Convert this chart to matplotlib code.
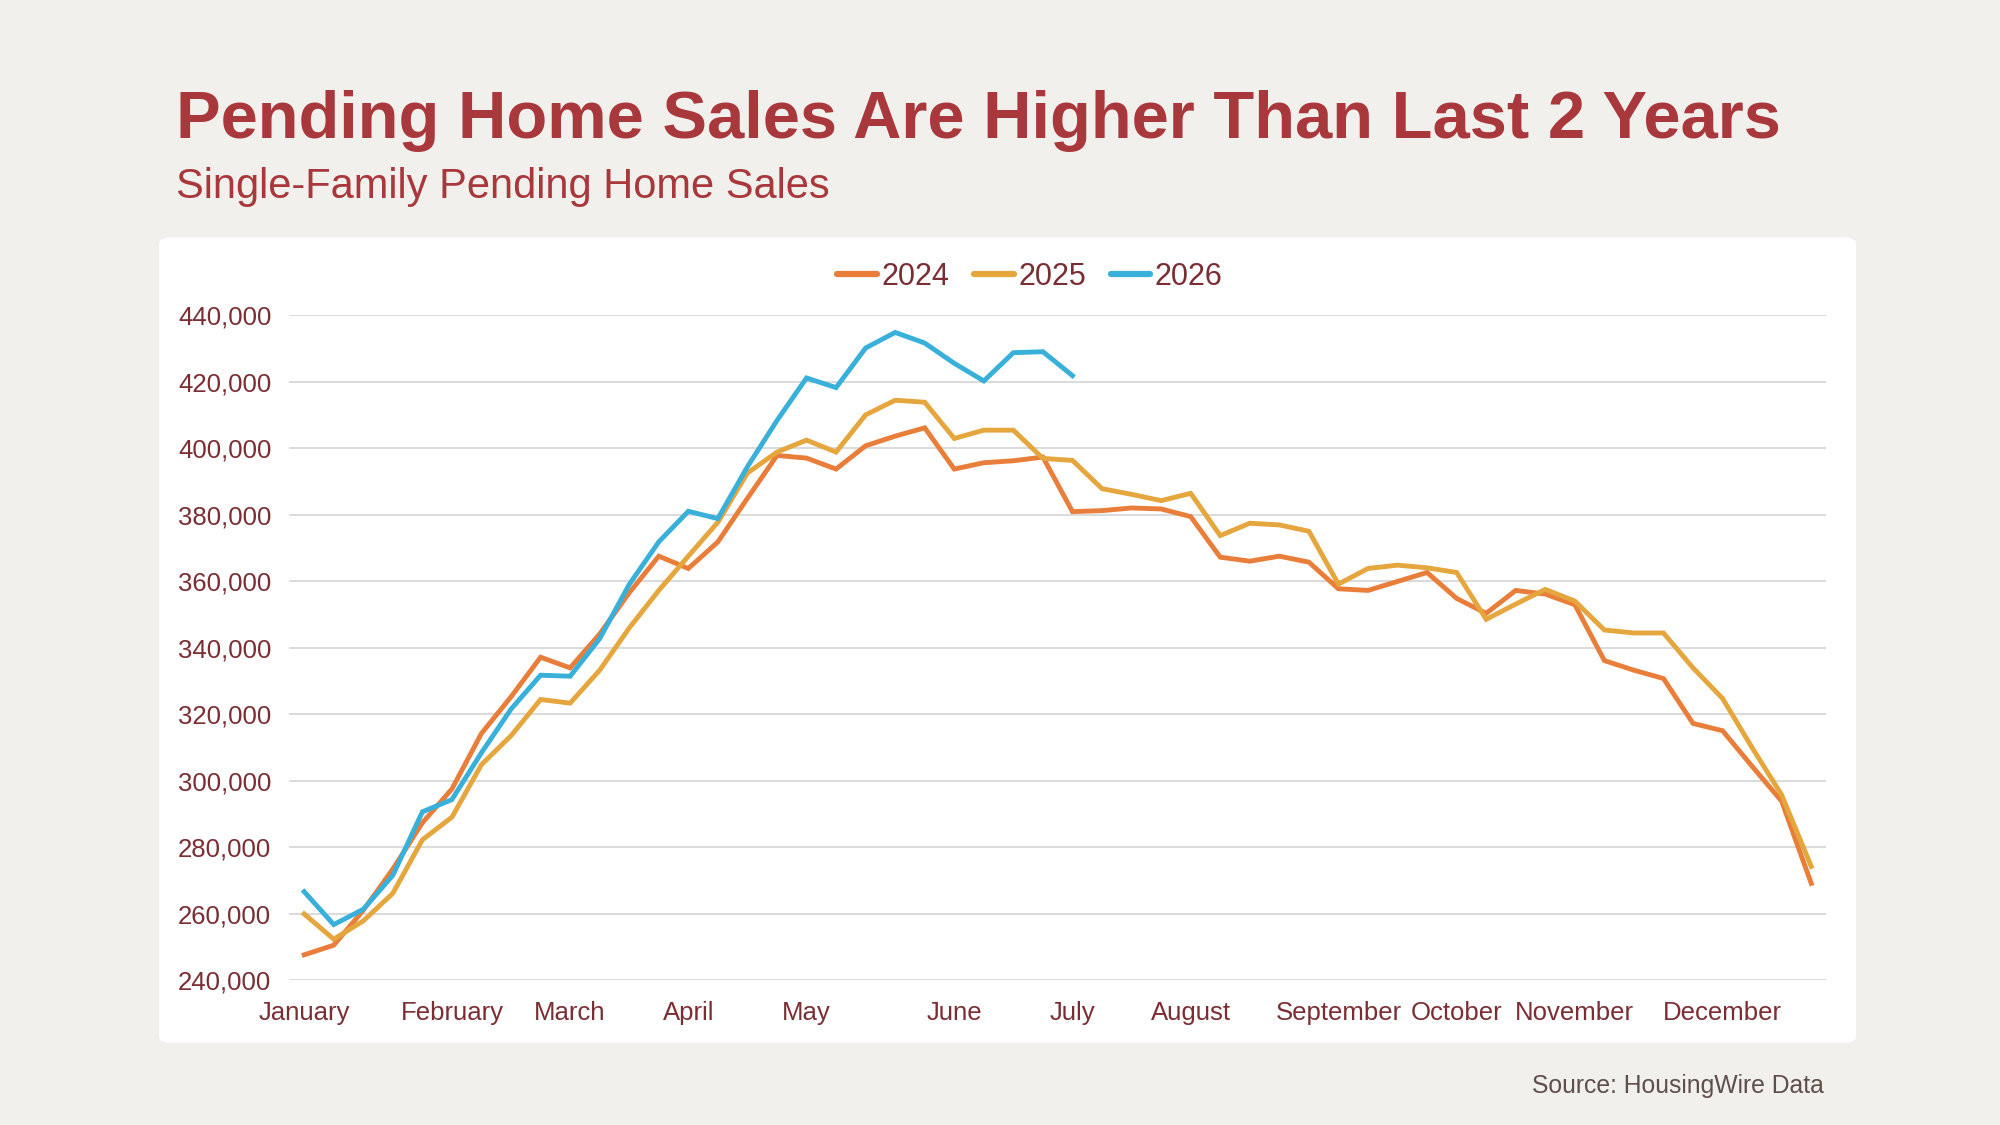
import matplotlib.pyplot as plt
from matplotlib.patches import FancyBboxPatch
from matplotlib.ticker import FuncFormatter

plt.rcParams['font.family'] = ['Liberation Sans', 'DejaVu Sans']

# weekly single-family pending home sales (52 weeks)
sales_2024 = [247.7, 250.6, 261.1, 273.5, 287.4, 297.6, 314.3, 325.3, 337.2, 334.0,
              344.2, 356.6, 367.6, 363.9, 371.9, 385.0, 397.9, 397.1, 393.8, 400.8,
              403.7, 406.2, 393.8, 395.7, 396.3, 397.4, 381.0, 381.3, 382.1, 381.8,
              379.5, 367.3, 366.1, 367.6, 365.8, 357.8, 357.3, 360.0, 362.7, 354.9,
              350.4, 357.3, 356.2, 353.0, 336.2, 333.3, 330.8, 317.3, 315.1, 304.4,
              293.9, 269.2]
sales_2025 = [260.0, 252.4, 257.9, 266.2, 282.3, 289.1, 304.9, 313.6, 324.5, 323.4,
              333.3, 346.0, 357.3, 367.6, 377.8, 392.6, 398.9, 402.5, 398.9, 410.1,
              414.5, 413.9, 403.0, 405.5, 405.5, 397.0, 396.4, 387.9, 386.2, 384.3,
              386.5, 373.8, 377.5, 377.0, 375.1, 359.2, 363.9, 364.9, 364.1, 362.7,
              348.6, 353.2, 357.6, 354.1, 345.4, 344.5, 344.5, 334.0, 324.8, 310.0,
              295.8, 274.3]
sales_2026 = [266.7, 256.8, 261.4, 271.6, 290.7, 294.4, 308.5, 321.6, 331.8, 331.5,
              342.8, 359.1, 371.9, 381.1, 378.9, 394.5, 408.4, 421.2, 418.3, 430.2,
              434.9, 431.7, 425.6, 420.3, 428.8, 429.1, 421.9]

month_weeks = [0, 5, 9, 13, 17, 22, 26, 30, 35, 39, 43, 48]
month_names = ['January', 'February', 'March', 'April', 'May', 'June', 'July',
               'August', 'September', 'October', 'November', 'December']

red = '#A8383B'
maroon = '#7A2E33'

fig = plt.figure(figsize=(20, 11.25), dpi=100, facecolor='#F2F0EC')

card = FancyBboxPatch((0.0795, 0.073), 0.8485, 0.716,
                      boxstyle='round,pad=0,rounding_size=0.006',
                      transform=fig.transFigure, facecolor='white',
                      edgecolor='none', zorder=-10)
fig.patches.append(card)

fig.text(0.088, 0.8775, 'Pending Home Sales Are Higher Than Last 2 Years',
         fontsize=48.2, fontweight='bold', color=red, va='baseline', ha='left')
fig.text(0.088, 0.8243, 'Single-Family Pending Home Sales',
         fontsize=30, color=red, va='baseline', ha='left')
fig.text(0.912, 0.035, 'Source: HousingWire Data', fontsize=17.8,
         color='#5E4E4C', ha='right', va='center')

ax = fig.add_axes([0.1447, 0.1285, 0.7683, 0.5911])
ax.set_zorder(5)
ax.set_facecolor('none')

weeks24 = list(range(len(sales_2024)))
weeks25 = list(range(len(sales_2025)))
weeks26 = list(range(len(sales_2026)))
ax.plot(weeks24, [v * 1000 for v in sales_2024], color='#E97E3A', lw=3.5,
        label='2024', solid_joinstyle='miter', zorder=3)
ax.plot(weeks25, [v * 1000 for v in sales_2025], color='#E5A63E', lw=3.5,
        label='2025', solid_joinstyle='miter', zorder=3)
ax.plot(weeks26, [v * 1000 for v in sales_2026], color='#38B0DA', lw=3.5,
        label='2026', solid_joinstyle='miter', zorder=4)

ax.set_xlim(-0.5, 51.5)
ax.set_ylim(240000, 440000)
ax.set_yticks(range(240000, 440001, 20000))
ax.yaxis.set_major_formatter(FuncFormatter(lambda v, p: f'{int(v):,}'))
ax.set_xticks(month_weeks)
ax.set_xticklabels(month_names)
ax.tick_params(axis='both', length=0, labelsize=18.5, labelcolor=maroon)
ax.tick_params(axis='y', pad=13)
ax.tick_params(axis='x', pad=15)
ax.grid(axis='y', color='#DADADA', lw=1.4)
ax.set_axisbelow(True)
for s in ax.spines.values():
    s.set_visible(False)

leg = ax.legend(loc='center', bbox_to_anchor=(0.482, 1.058), ncol=3,
                frameon=False, fontsize=22, handlelength=1.3, handletextpad=0.15,
                columnspacing=0.8)
for t in leg.get_texts():
    t.set_color(maroon)
for h in leg.get_lines():
    h.set_linewidth(4.5)
    h.set_solid_capstyle('round')

fig.savefig('out.png', dpi=100, facecolor=fig.get_facecolor())
